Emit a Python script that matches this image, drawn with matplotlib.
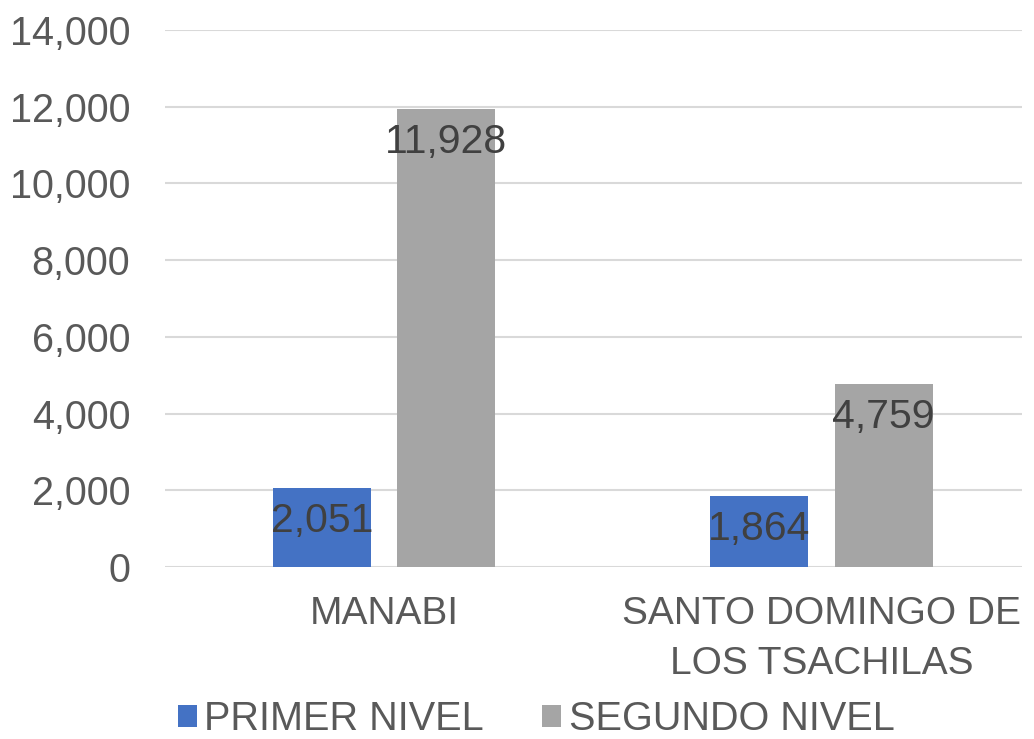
import matplotlib
matplotlib.use("Agg")
import matplotlib.pyplot as plt
import numpy as np
from matplotlib.ticker import FuncFormatter

plt.rcParams['font.family'] = ['Liberation Sans', 'DejaVu Sans']

categories = ["MANABI", "SANTO DOMINGO DE\nLOS TSACHILAS"]
series_names = ["PRIMER NIVEL", "SEGUNDO NIVEL"]
primer = [2051, 1864]
segundo = [11928, 4759]
colors = ["#4472C4", "#A5A5A5"]

W, H = 1034, 739
fig = plt.figure(figsize=(W / 100, H / 100), dpi=100)
ax_left, ax_right = 165 / W, 1022 / W
ax_bottom, ax_top = 1 - 567 / H, 1 - 30 / H
ax = fig.add_axes([ax_left, ax_bottom, ax_right - ax_left, ax_top - ax_bottom])

x = np.arange(len(categories))
w = 0.224
off = 0.1425
b1 = ax.bar(x - off, primer, w, color=colors[0], label=series_names[0], zorder=3)
b2 = ax.bar(x + off, segundo, w, color=colors[1], label=series_names[1], zorder=3)

for bars, vals in ((b1, primer), (b2, segundo)):
    for rect, v in zip(bars, vals):
        ax.annotate(f"{v:,}", (rect.get_x() + rect.get_width() / 2, v),
                    xytext=(0, -33), textcoords="offset pixels",
                    ha="center", va="center", fontsize=29.5, color="#404040", zorder=4)

ax.set_ylim(0, 14000)
ax.set_yticks(np.arange(0, 14001, 2000))
ax.yaxis.set_major_formatter(FuncFormatter(lambda v, p: f"{int(v):,}"))
ax.set_xlim(-(384 - 165) / 437, 1 + (1022 - 821.5) / 437)
ax.set_xticks(x)
ax.set_xticklabels(categories, fontsize=28, color="#595959", linespacing=1.5)
ax.tick_params(axis="y", labelsize=28.5, labelcolor="#595959", length=0, pad=25)
ax.tick_params(axis="x", length=0, pad=21)
ax.grid(axis="y", color="#D9D9D9", linewidth=1.5, zorder=0)
for s in ax.spines.values():
    s.set_visible(False)

leg = fig.legend(handles=[b1, b2], labels=series_names, loc="center",
                 bbox_to_anchor=(536 / W, 1 - 719 / H), ncol=2, frameon=False,
                 fontsize=28.5, handlelength=0.5, handleheight=0.5,
                 handletextpad=0.18, columnspacing=1.45, labelcolor="#595959")

fig.savefig("out.png", dpi=100)
